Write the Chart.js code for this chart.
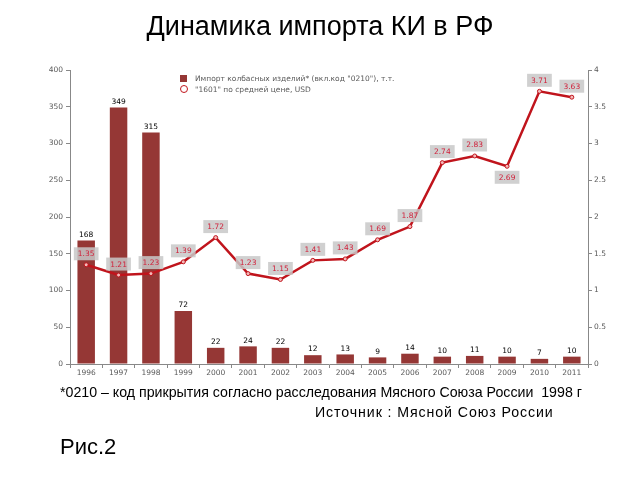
<!DOCTYPE html>
<html>
<head>
<meta charset="utf-8">
<script src="https://cdn.jsdelivr.net/npm/chart.js@4/dist/chart.umd.min.js"></script>
<style>
  body { margin: 0; background: #fff; font-family: Arial, "Liberation Sans", sans-serif; }
  #wrap { position: relative; width: 640px; height: 480px; overflow: hidden; }
  #chart { position: absolute; left: 0; top: 0; }
  .txt { position: absolute; white-space: nowrap; color: #000; }
  .leg { position: absolute; font-size: 7.5px; color: #595959; white-space: nowrap; font-family: "DejaVu Sans", sans-serif; }
</style>
</head>
<body>
<div id="wrap">
  <canvas id="chart" width="640" height="480"></canvas>
  <div class="txt" style="left:0;width:640px;text-align:center;top:11px;font-size:27px;">Динамика импорта КИ в РФ</div>
  <div class="leg" style="left:180px;top:74px;"><span style="display:inline-block;width:7px;height:7px;background:#953735;margin-right:8px;vertical-align:-1px;"></span>Импорт колбасных изделий* (вкл.код "0210"), т.т.</div>
  <div class="leg" style="left:180px;top:85px;"><span style="display:inline-block;width:6px;height:6px;border:1.5px solid #c0141c;border-radius:50%;margin-right:7px;vertical-align:-1px;"></span>"1601" по средней цене, USD</div>
  <div class="txt" style="left:60px;top:384px;font-size:14.2px;">*0210 – код прикрытия согласно расследования Мясного Союза России&nbsp; 1998 г</div>
  <div class="txt" style="left:315px;top:404px;font-size:14.2px;letter-spacing:0.9px;">Источник : Мясной Союз России</div>
  <div class="txt" style="left:60px;top:434px;font-size:22px;">Рис.2</div>
</div>
<script>
// данные
var years = ['1996','1997','1998','1999','2000','2001','2002','2003','2004','2005','2006','2007','2008','2009','2010','2011'];
var importVolume = [168, 349, 315, 72, 22, 24, 22, 12, 13, 9, 14, 10, 11, 10, 7, 10];
var avgPrice = [1.35, 1.21, 1.23, 1.39, 1.72, 1.23, 1.15, 1.41, 1.43, 1.69, 1.87, 2.74, 2.83, 2.69, 3.71, 3.63];

var labelsBelow = [13]; // подпись 2009 под точкой

var labelPlugin = {
    id: 'labels',
    afterDatasetsDraw: function (chart) {
        var ctx = chart.ctx;
        ctx.save();
        // подписи столбцов
        var bars = chart.getDatasetMeta(1).data;
        ctx.font = '7.5px "DejaVu Sans", sans-serif';
        ctx.fillStyle = '#000';
        ctx.textAlign = 'center';
        ctx.textBaseline = 'bottom';
        bars.forEach(function (b, i) {
            ctx.fillText(importVolume[i], b.x, b.y - 2);
        });
        // подписи линии
        var pts = chart.getDatasetMeta(0).data;
        ctx.textBaseline = 'middle';
        pts.forEach(function (p, i) {
            var txt = avgPrice[i].toFixed(2);
            var w = ctx.measureText(txt).width + 8;
            var h = 13;
            var cy = labelsBelow.indexOf(i) >= 0 ? p.y + 11 : p.y - 11;
            ctx.fillStyle = 'rgba(200,200,200,0.85)';
            ctx.fillRect(p.x - w / 2, cy - h / 2, w, h);
            ctx.fillStyle = '#d0203a';
            ctx.fillText(txt, p.x, cy + 0.5);
        });
        ctx.restore();
    }
};

var ctx = document.getElementById('chart').getContext('2d');
var myChart = new Chart(ctx, {
    type: 'bar',
    data: {
        labels: years,
        datasets: [{
            type: 'line',
            label: '"1601" по средней цене, USD',
            data: avgPrice,
            yAxisID: 'y1',
            borderColor: '#c0141c',
            borderWidth: 2.5,
            pointRadius: 2,
            pointBackgroundColor: '#f4b8b8',
            pointBorderColor: '#c0141c',
            pointBorderWidth: 1,
            tension: 0,
            order: 0
        }, {
            label: 'Импорт колбасных изделий',
            data: importVolume,
            yAxisID: 'y',
            backgroundColor: '#953735',
            borderWidth: 0,
            categoryPercentage: 0.54,
            barPercentage: 1,
            order: 1
        }]
    },
    options: {
        responsive: false,
        animation: false,
        layout: { padding: { top: 70, left: 0, right: 0, bottom: 0 } },
        plugins: {
            legend: { display: false },
            title: { display: false },
            tooltip: { enabled: false }
        },
        scales: {
            x: {
                afterFit: function (s) { s.height = 116; },
                grid: { drawOnChartArea: false, tickLength: 4, color: '#888' },
                border: { color: '#888' },
                ticks: { color: '#595959', font: { size: 7.5, family: '"DejaVu Sans", sans-serif' }, padding: 1, maxRotation: 0, autoSkip: false }
            },
            y: {
                position: 'left',
                min: 0,
                max: 400,
                afterFit: function (s) { s.width = 70; },
                grid: { drawOnChartArea: false, tickLength: 4, color: '#888' },
                border: { color: '#888' },
                ticks: { stepSize: 50, color: '#595959', font: { size: 7.5, family: '"DejaVu Sans", sans-serif' }, padding: 3 }
            },
            y1: {
                position: 'right',
                min: 0,
                max: 4,
                afterFit: function (s) { s.width = 52; },
                grid: { drawOnChartArea: false, tickLength: 4, color: '#888' },
                border: { color: '#888' },
                ticks: {
                    stepSize: 0.5,
                    color: '#595959',
                    font: { size: 7.5, family: '"DejaVu Sans", sans-serif' },
                    padding: 2,
                    callback: function (v) { return String(v); }
                }
            }
        }
    },
    plugins: [labelPlugin]
});
</script>
</body>
</html>
